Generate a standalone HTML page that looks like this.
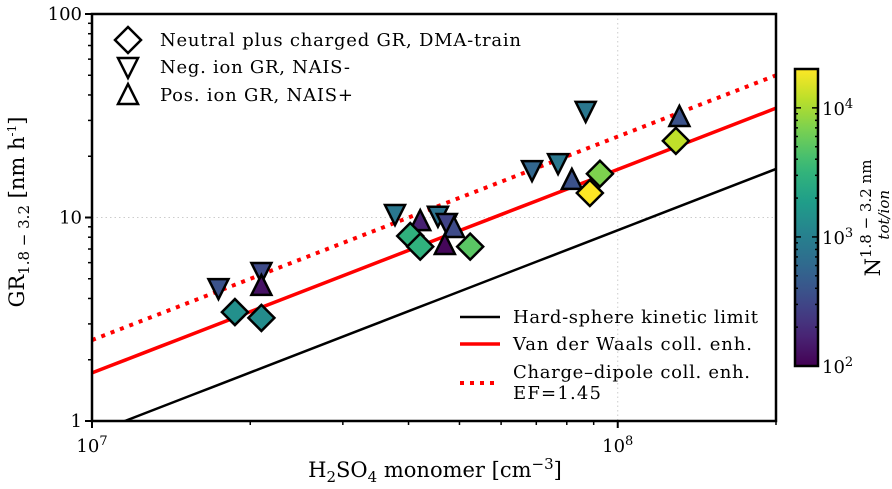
<!DOCTYPE html>
<html><head><meta charset="utf-8"><style>
body{margin:0;background:#fff}
svg{display:block}
text{font-family:"DejaVu Serif","Liberation Serif",serif}
</style></head><body>
<svg id="c" width="892" height="489" xmlns="http://www.w3.org/2000/svg"></svg>
<script>
const diamondX=[1.87e7,2.10e7,4.03e7,4.21e7,5.24e7,8.85e7,9.25e7,1.29e8];
const diamondY=[3.43,3.21,8.11,7.19,7.19,13.2,16.4,23.8];
const diamondN=[1400,1300,3000,3000,5000,20000,7000,12000];
const negX=[1.74e7,2.10e7,3.77e7,4.55e7,4.73e7,6.87e7,7.70e7,8.69e7];
const negY=[4.50,5.4,10.4,10.2,9.4,17.1,18.5,33.4];
const negN=[380,330,830,750,290,570,830,830];
const posX=[2.10e7,4.21e7,4.88e7,4.69e7,8.18e7,1.31e8];
const posY=[4.61,9.6,8.88,7.33,15.3,31.2];
const posN=[130,160,330,110,380,380];
const xTickLabels=["10","10"];
const yTickLabels=["1","10","100"];
const hsCoef=1/1.155e7, vdwEnh=1.99, ef=1.45;

const NS="http://www.w3.org/2000/svg",svg=document.getElementById('c');
const X0=92,X1=776,Y0=14,Y1=421;
const xs=v=>X0+(Math.log10(v)-7)*(X1-X0)/Math.log10(20);
const ys=v=>Y1-Math.log10(v)*(Y1-Y0)/2;
const cbTop=69,cbBot=366,cbMin=2,cbMax=Math.log10(2e4);
function el(t,a,p){const e=document.createElementNS(NS,t);for(const k in a)e.setAttribute(k,a[k]);(p||svg).appendChild(e);return e;}
const vir=[[68,1,84],[72,40,120],[62,74,137],[49,104,142],[38,130,142],[31,158,137],[53,183,121],[110,206,88],[181,222,43],[253,231,37]];
function viridis(t){t=Math.max(0,Math.min(1,t))*9;const i=Math.min(8,Math.floor(t)),f=t-i,a=vir[i],b=vir[i+1];return `rgb(${a.map((v,k)=>Math.round(v+(b[k]-v)*f)).join(',')})`;}
const ncol=n=>viridis((Math.log10(n)-cbMin)/(cbMax-cbMin));

let g=el('line',{x1:X0,x2:X1,y1:ys(10),y2:ys(10),stroke:'#ccc','stroke-dasharray':'1.5,3'});

g=el('line',{x1:xs(1e8),x2:xs(1e8),y1:Y0,y2:Y1,stroke:'#ccc','stroke-dasharray':'1.5,3'});


const clip=el('clipPath',{id:'pc'});el('rect',{x:X0,y:Y0,width:X1-X0,height:Y1-Y0},clip);
const lg=el('g',{'clip-path':'url(#pc)'});
function line2(f,attrs,name){let d='';for(let i=0;i<=40;i++){const lx=7+i/40*Math.log10(20),x=Math.pow(10,lx);d+=(i?'L':'M')+xs(x)+','+ys(f(x));}
const p=el('path',Object.assign({d:d,fill:'none'},attrs),lg);}
line2(x=>x*hsCoef,{stroke:'#000','stroke-width':2.5},'hard-sphere-line');
line2(x=>x*hsCoef*vdwEnh,{stroke:'#f00','stroke-width':3.5},'vdw-line');
line2(x=>x*hsCoef*vdwEnh*ef,{stroke:'#f00','stroke-width':4,'stroke-dasharray':'4,6'},'charge-dipole-line');

function diamond(cx,cy,fill,name){const s=13;const p=el('path',{d:`M${cx},${cy-s}L${cx+s},${cy}L${cx},${cy+s}L${cx-s},${cy}Z`,fill:fill,stroke:'#000','stroke-width':2.5});}
function tri(cx,cy,fill,down,name){const w=10,h=9;const d=down?`M${cx-w},${cy-h}L${cx+w},${cy-h}L${cx},${cy+h+2}Z`:`M${cx-w},${cy+h}L${cx+w},${cy+h}L${cx},${cy-h-2}Z`;
const p=el('path',{d:d,fill:fill,stroke:'#000','stroke-width':2.5,'stroke-linejoin':'miter'});}
negX.forEach((x,i)=>tri(xs(x),ys(negY[i]),ncol(negN[i]),true,'neg-ion-point'));
posX.forEach((x,i)=>tri(xs(x),ys(posY[i]),ncol(posN[i]),false,'pos-ion-point'));
diamondX.forEach((x,i)=>diamond(xs(x),ys(diamondY[i]),ncol(diamondN[i]),'dma-point'));

let fr=el('rect',{x:X0,y:Y0,width:X1-X0,height:Y1-Y0,fill:'none',stroke:'#000','stroke-width':2.5});

for(let e=7;e<=8;e++)for(let m=1;m<10;m++){const v=m*Math.pow(10,e);if(v>2e8)break;const x=xs(v),L=m==1?7:4;
const t=el('line',{x1:x,x2:x,y1:Y1,y2:Y1+L,stroke:'#000','stroke-width':m==1?2:1.5});}
for(let e=0;e<=1;e++)for(let m=1;m<=10;m++){if(m==10&&e==0)continue;const v=m*Math.pow(10,e);const y=ys(v),L=(m==1||m==10)?7:4;
const t=el('line',{x1:X0-L,x2:X0,y1:y,y2:y,stroke:'#000','stroke-width':L==7?2:1.5});}
[7,8].forEach((e,i)=>{const t=el('text',{x:xs(Math.pow(10,e)),y:452,'text-anchor':'middle','font-size':18});
t.textContent=xTickLabels[i];const s=el('tspan',{dy:-7,'font-size':13},t);s.textContent=String(e);});
yTickLabels.forEach((l,i)=>{const t=el('text',{x:X0-10,y:ys(Math.pow(10,i))+6,'text-anchor':'end','font-size':18});t.textContent=l;});

let xt=el('text',{x:435,y:477,'text-anchor':'middle','font-size':21});
xt.innerHTML='H<tspan dy="5" font-size="15">2</tspan><tspan dy="-5">SO</tspan><tspan dy="5" font-size="15">4</tspan><tspan dy="-5"> monomer [cm</tspan><tspan dy="-8" font-size="15">−3</tspan><tspan dy="8">]</tspan>';
let yt=el('text',{transform:'translate(24,212) rotate(-90)','text-anchor':'middle','font-size':21});
yt.innerHTML='GR<tspan dy="5" font-size="15">1.8 − 3.2</tspan><tspan dy="-5"> [nm h</tspan><tspan dy="-8" font-size="12">-1</tspan><tspan dy="8">]</tspan>';

const leg=el('g',{});
diamond(128,40,'#fff','legend-dma-marker');tri(128,67,'#fff',true,'legend-neg-marker');tri(128,95,'#fff',false,'legend-pos-marker');
[['Neutral plus charged GR, DMA-train',46,361],['Neg. ion GR, NAIS-',73,190],['Pos. ion GR, NAIS+',101,193]].forEach(a=>{const t=el('text',{x:160,y:a[1],'font-size':18,textLength:a[2]},leg);t.textContent=a[0];});
const l2=el('g',{});
el('line',{x1:460,x2:500,y1:317,y2:317,stroke:'#000','stroke-width':2.5},l2);
el('line',{x1:460,x2:500,y1:344,y2:344,stroke:'#f00','stroke-width':3.5},l2);
el('line',{x1:460,x2:500,y1:383,y2:383,stroke:'#f00','stroke-width':4,'stroke-dasharray':'4,6'},l2);
[['Hard-sphere kinetic limit',323,245],['Van der Waals coll. enh.',350,239],['Charge–dipole coll. enh.',378,237],['EF=1.45',399,88]].forEach(a=>{const t=el('text',{x:513,y:a[1],'font-size':18,textLength:a[2]},l2);t.textContent=a[0];});

const defs=el('defs',{});const gr=el('linearGradient',{id:'vg',x1:0,y1:1,x2:0,y2:0},defs);
for(let i=0;i<=20;i++)el('stop',{offset:i/20,'stop-color':viridis(i/20)},gr);
let cb=el('rect',{x:795,y:cbTop,width:23,height:cbBot-cbTop,fill:'url(#vg)',stroke:'#000','stroke-width':2.5});
const cy=v=>cbBot-(Math.log10(v)-cbMin)/(cbMax-cbMin)*(cbBot-cbTop);
for(let e=2;e<=4;e++)for(let m=1;m<10;m++){const v=m*Math.pow(10,e);if(v>2e4)break;const y=cy(v),L=m==1?6:3;
el('line',{x1:795,x2:795+L,y1:y,y2:y,stroke:'#000','stroke-width':1.5});el('line',{x1:818-L,x2:818,y1:y,y2:y,stroke:'#000','stroke-width':1.5});
if(m==1){const t=el('text',{x:822,y:y+7,'font-size':18});t.textContent='10';const s=el('tspan',{dy:-7,'font-size':13},t);s.textContent=String(e);}}
let ct=el('text',{transform:'translate(880,218) rotate(-90)','text-anchor':'middle','font-size':21});
ct.innerHTML='N<tspan dy="-9" font-size="15">1.8 − 3.2 nm</tspan><tspan dx="-80" dy="18" font-size="15" font-style="italic">tot/ion</tspan>';
</script>
</body></html>
